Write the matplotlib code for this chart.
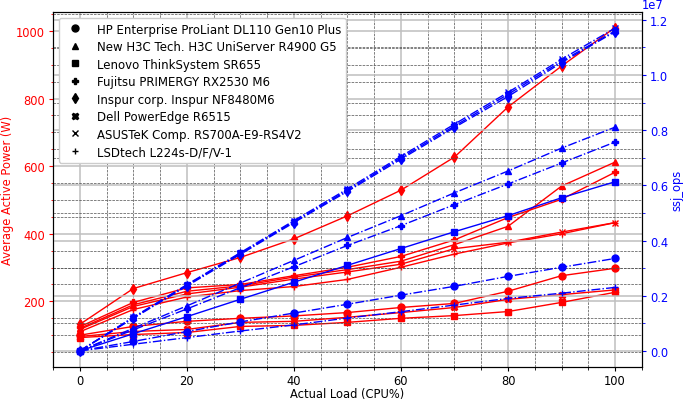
import matplotlib
matplotlib.use("Agg")
import matplotlib.pyplot as plt
from matplotlib.lines import Line2D
from matplotlib.ticker import AutoMinorLocator

plt.rcParams['font.size'] = 8.3
plt.rcParams['xtick.major.size'] = 3
plt.rcParams['ytick.major.size'] = 3
plt.rcParams['xtick.minor.size'] = 1.8
plt.rcParams['ytick.minor.size'] = 1.8
plt.rcParams['xtick.major.pad'] = 1.8
plt.rcParams['ytick.major.pad'] = 2.8
plt.rcParams['axes.labelpad'] = 1.5

load = [0, 10, 20, 30, 40, 50, 60, 70, 80, 90, 100]

servers = ["HP Enterprise ProLiant DL110 Gen10 Plus",
           "New H3C Tech. H3C UniServer R4900 G5",
           "Lenovo ThinkSystem SR655",
           "Fujitsu PRIMERGY RX2530 M6",
           "Inspur corp. Inspur NF8480M6",
           "Dell PowerEdge R6515",
           "ASUSTeK Comp. RS700A-E9-RS4V2",
           "LSDtech L224s-D/F/V-1"]
markers = ["o", "^", "s", "P", "d", "X", "x", "+"]

# average active power (W)
power_hp = [100, 126, 141, 150, 157, 167, 182, 194, 230, 276, 298]
power_h3c = [120, 190, 230, 246, 272, 294, 319, 368, 422, 541, 612]
power_lenovo = [93, 102, 108, 126, 129, 138, 150, 158, 170, 197, 227]
power_fujitsu = [125, 197, 240, 250, 276, 301, 333, 382, 448, 502, 582]
power_inspur = [132, 238, 285, 330, 385, 453, 529, 627, 775, 896, 1010]
power_dell = [96, 111, 117, 138, 141, 153, 167, 182, 206, 220, 234]
power_asus = [117, 185, 222, 242, 266, 287, 310, 356, 375, 405, 433]
power_lsd = [110, 176, 213, 232, 244, 265, 301, 340, 373, 400, 433]

# ssj_ops (x1e7)
ops_hp = [0, 0.034, 0.070, 0.105, 0.137, 0.169, 0.202, 0.234, 0.270, 0.303, 0.335]
ops_h3c = [0, 0.082, 0.163, 0.246, 0.328, 0.411, 0.490, 0.573, 0.652, 0.735, 0.811]
ops_lenovo = [0, 0.062, 0.124, 0.187, 0.249, 0.310, 0.371, 0.432, 0.490, 0.555, 0.613]
ops_fujitsu = [0, 0.076, 0.152, 0.229, 0.305, 0.382, 0.454, 0.530, 0.605, 0.681, 0.757]
ops_inspur = [0, 0.118, 0.235, 0.350, 0.465, 0.578, 0.695, 0.810, 0.922, 1.045, 1.157]
ops_dell = [0, 0.120, 0.238, 0.353, 0.468, 0.582, 0.700, 0.815, 0.930, 1.050, 1.160]
ops_asus = [0, 0.122, 0.240, 0.356, 0.472, 0.587, 0.705, 0.822, 0.937, 1.057, 1.170]
ops_lsd = [0, 0.024, 0.048, 0.072, 0.094, 0.119, 0.142, 0.166, 0.190, 0.209, 0.230]

power = [power_hp, power_h3c, power_lenovo, power_fujitsu,
         power_inspur, power_dell, power_asus, power_lsd]
ops = [ops_hp, ops_h3c, ops_lenovo, ops_fujitsu,
       ops_inspur, ops_dell, ops_asus, ops_lsd]
ops_styles = ["-.", "-.", "-", "-.", "-.", "-.", "-.", "-."]

fig = plt.figure(figsize=(6.85, 4.02), dpi=100)
ax = fig.add_axes([0.0774, 0.0846, 0.8596, 0.8831])
ax2 = ax.twinx()

for p, m in zip(power, markers):
    ax.plot(load, p, color="red", marker=m, ms=5, lw=1)

for o, m, ls in zip(ops, markers, ops_styles):
    ax2.plot(load, [v * 1e7 for v in o], color="blue", marker=m, ms=5,
             lw=1, ls=ls)

ax.set_xlim(-5, 105)
ax.set_ylim(6, 1056)
ax.set_xlabel("Actual Load (CPU%)", labelpad=0.5)
ax.set_ylabel("Average Active Power (W)", color="red")
ax.tick_params(axis="y", colors="red", which="both")
ax.yaxis.label.set_color("red")
ax2.set_ylabel("ssj_ops", color="blue")
ax2.tick_params(axis="y", colors="blue", which="both")
ax2.yaxis.set_offset_position("right")
ax2.yaxis.get_offset_text().set_color("blue")
ax2.yaxis.get_offset_text().set_horizontalalignment("left")

ax.xaxis.set_minor_locator(AutoMinorLocator())
ax.yaxis.set_minor_locator(AutoMinorLocator())
ax2.yaxis.set_minor_locator(AutoMinorLocator(2))

ax.grid(which="major", color="0.75", lw=1.1, ls="-")
ax.grid(which="minor", color="0.3", lw=0.5, ls="--")
ax2.grid(which="major", axis="y", color="0.75", lw=1.1, ls="-")
ax2.grid(which="minor", axis="y", color="0.3", lw=0.5, ls="--")
ax.set_axisbelow(True)

handles = [Line2D([], [], color="k", marker=m, ls="None", ms=5) for m in markers]
leg = ax2.legend(handles, servers, loc="upper left", framealpha=1,
                 fontsize=8.5, labelspacing=0.38)
leg.set_zorder(10)

fig.savefig("out.png", dpi=100)
